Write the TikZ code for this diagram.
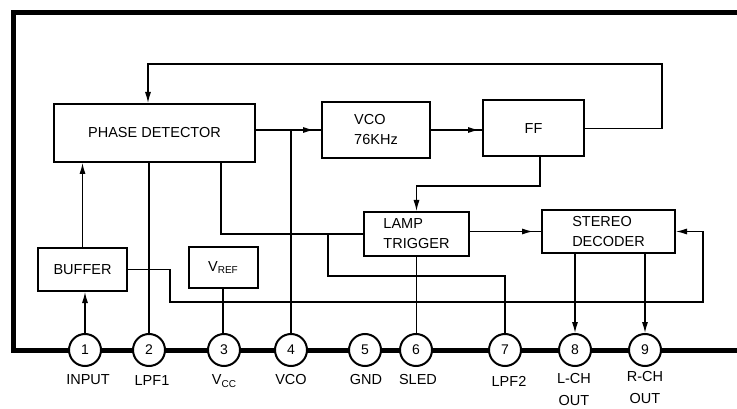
\documentclass[tikz,border=0pt]{standalone}
\usepackage{fontspec}
\setmainfont{Liberation Sans}
\usetikzlibrary{arrows.meta,decorations.markings}
\begin{document}
\begin{tikzpicture}[x=1pt,y=-1pt,
  blk/.style={draw,line width=2pt,inner sep=0pt,align=left,font=\fontsize{14.5}{20}\selectfont},
  pin/.style={draw,circle,line width=2pt,fill=white,minimum size=32pt,inner sep=0pt,font=\fontsize{14}{14}\selectfont},
  lbl/.style={inner sep=0pt,align=center,font=\fontsize{14.5}{22}\selectfont},
  wire/.style={line width=1.2pt},
  arr/.style={wire,-{Latex[length=11pt,width=6pt]}},
  midarr/.style={wire,postaction={decorate},decoration={markings,mark=at position #1 with {\arrow{Latex[length=11pt,width=6pt]}}}},
  frame/.style={line width=5pt,line join=miter}
]
\useasboundingbox (0,0) rectangle (737,409);
% chip outline
\draw[frame] (737,13) -- (13,13) -- (13,350) -- (737,350);
% pins
\node[pin] (p1) at (85,350) {1};
\node[pin] (p2) at (149,350) {2};
\node[pin] (p3) at (224,350) {3};
\node[pin] (p4) at (291,350) {4};
\node[pin] (p5) at (365,350) {5};
\node[pin] (p6) at (416,350) {6};
\node[pin] (p7) at (505,350) {7};
\node[pin] (p8) at (575,350) {8};
\node[pin] (p9) at (645,350) {9};
% pin labels
\node[lbl] (l1) at (88,380) {INPUT};
\node[lbl] (l2) at (152,381) {LPF1};
\node[lbl] (l3) at (224,381) {V\raisebox{-2.5pt}{\fontsize{10}{10}\selectfont CC}};
\node[lbl] (l4) at (291,380) {VCO};
\node[lbl] (l5) at (366,380) {GND};
\node[lbl] (l6) at (418,380) {SLED};
\node[lbl] (l7) at (509,381) {LPF2};
\node[lbl] (l8) at (574,390) {L-CH\\OUT};
\node[lbl] (l9) at (645,388) {R-CH\\OUT};
% blocks
\node[blk,minimum width=201pt,minimum height=58pt] (pd) at (154.5,133) {PHASE DETECTOR};
\node[blk,minimum width=108pt,minimum height=56pt] (vco) at (376,130) {VCO\\76KHz};
\node[blk,minimum width=101pt,minimum height=56pt] (ff) at (533.5,128.5) {FF};
\node[blk,minimum width=105pt,minimum height=44pt] (lamp) at (416.5,234) {LAMP\\TRIGGER};
\node[blk,minimum width=133pt,minimum height=43pt] (stereo) at (608.5,231.5) {STEREO\\DECODER};
\node[blk,minimum width=89pt,minimum height=43pt] (buffer) at (82.5,269.5) {BUFFER};
\node[blk,minimum width=69pt,minimum height=41pt] (vref) at (223,267.5) {V\raisebox{-2.5pt}{\fontsize{10}{10}\selectfont REF}};
% helper coordinates
\coordinate (fbA) at (662,64);
\coordinate (fbB) at (148,64);
\coordinate (c1) at (540,186);
\coordinate (c2) at (221,233);
\coordinate (c3) at (328,276);
\coordinate (c4) at (170,302);
\coordinate (c5) at (703,302);
% connections
\draw[midarr=-7pt] (pd.east |- vco.west) -- (vco.west);
\draw[wire] (p4.north) -- (p4.north |- vco.west);
\draw[midarr=-3pt] (vco.east) -- (vco.east -| ff.west);
\draw[arr] (ff.east) -| (fbA) -- (fbB) -- (fbB |- pd.north);
\draw[arr] (c1 |- ff.south) -- (c1) -| (lamp.north);
\draw[midarr=-8pt] (lamp.east |- stereo.west) -- (stereo.west);
\draw[wire] (pd.south -| c2) -- (c2 |- lamp.west) -- (lamp.west);
\draw[wire] (c3 |- lamp.west) -- (c3) -| (p7.north);
\draw[arr] (buffer.east) -| (c4) -- (c5) |- (stereo.east);
\draw[arr] (buffer.north) -- (buffer.north |- pd.south);
\draw[arr] (p1.north) -- (p1.north |- buffer.south);
\draw[wire] (pd.south -| p2) -- (p2.north);
\draw[wire] (vref.south) -- (vref.south |- p3.north);
\draw[wire] (lamp.south) -- (lamp.south |- p6.north);
\draw[arr] (stereo.south -| p8) -- (p8.north);
\draw[arr] (stereo.south -| p9) -- (p9.north);
\end{tikzpicture}
\end{document}
